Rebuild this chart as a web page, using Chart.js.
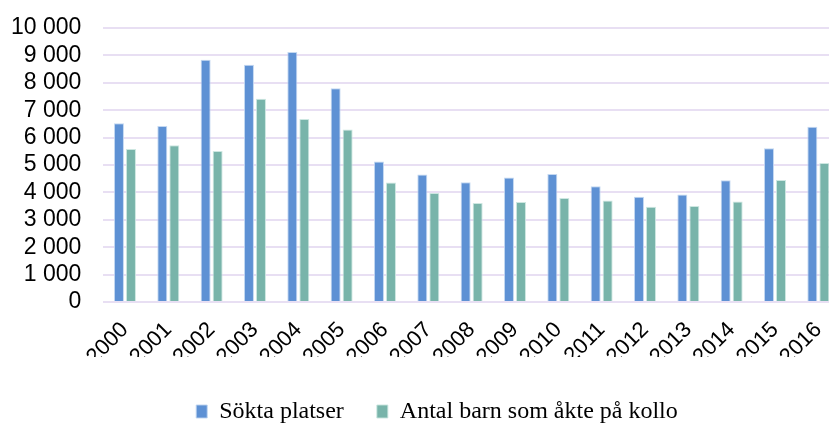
<!DOCTYPE html>
<html>
<head>
<meta charset="utf-8">
<script src="https://cdn.jsdelivr.net/npm/chart.js@4/dist/chart.umd.min.js"></script>
<style>
  html, body { margin: 0; padding: 0; background: #ffffff; overflow: hidden; }
  #wrap { width: 829px; height: 424px; position: relative; overflow: hidden; }
  canvas { display: block; }
</style>
</head>
<body>
<div id="wrap"><canvas id="c" width="840" height="424"></canvas></div>
<script>
const years = ['2000','2001','2002','2003','2004','2005','2006','2007','2008','2009','2010','2011','2012','2013','2014','2015','2016'];
const soktaPlatser = [6520, 6420, 8840, 8660, 9120, 7800, 5130, 4650, 4370, 4540, 4670, 4220, 3840, 3920, 4440, 5610, 6400];
const antalBarn = [5580, 5720, 5510, 7420, 6680, 6300, 4360, 3980, 3610, 3650, 3800, 3700, 3480, 3500, 3670, 4450, 5070];
const seriesNames = ['Sökta platser', 'Antal barn som åkte på kollo'];
const yMin = 0, yMax = 10000, yStep = 1000;

const fmt = v => String(v).replace(/\B(?=(\d{3})+(?!\d))/g, ' ');

const legendNudge = {
  id: 'legendNudge',
  afterLayout(chart) {
    const l = chart.legend;
    if (!l) return;
    l.left += 17; l.right += 17;
    l.top += 9.5; l.bottom += 9.5;
  }
};

new Chart(document.getElementById('c'), {
  type: 'bar',
  data: {
    labels: years,
    datasets: [
      { label: seriesNames[0], data: soktaPlatser, backgroundColor: '#5E91D4', borderColor: 'rgba(190,212,240,0.9)', borderWidth: 1, borderSkipped: 'bottom' },
      { label: seriesNames[1], data: antalBarn, backgroundColor: '#78B4AA', borderColor: 'rgba(200,228,222,0.9)', borderWidth: 1, borderSkipped: 'bottom' }
    ]
  },
  options: {
    responsive: false,
    animation: false,
    devicePixelRatio: 1,
    layout: { padding: { top: 28, left: 0, right: 0, bottom: 0 } },
    datasets: { bar: { categoryPercentage: 0.554, barPercentage: 0.833 } },
    plugins: {
      tooltip: { enabled: false },
      legend: {
        position: 'bottom',
        align: 'center',
        labels: {
          boxWidth: 11,
          boxHeight: 13,
          padding: 33,
          color: '#000',
          font: { family: '"Liberation Serif", "Times New Roman", serif', size: 24 }
        }
      }
    },
    scales: {
      x: {
        grid: { display: false, drawTicks: false },
        border: { display: false },
        ticks: {
          minRotation: 45, maxRotation: 45, padding: 15, autoSkip: false,
          color: '#000',
          font: { family: '"Liberation Sans", Arial, sans-serif', size: 22 }
        },
        afterFit(scale) { scale.height = 55; scale.paddingLeft = 0; scale.paddingRight = 0; }
      },
      y: {
        min: yMin, max: yMax,
        grid: { color: '#E8DFF3', lineWidth: 2, drawTicks: false },
        border: { display: false },
        ticks: {
          stepSize: yStep, padding: 22, autoSkip: false,
          color: '#000',
          font: { family: '"Liberation Sans", Arial, sans-serif', size: 23 },
          callback: v => fmt(v)
        },
        afterFit(scale) { scale.width = 103.3; scale.paddingTop = 0; scale.paddingBottom = 0; }
      }
    }
  },
  plugins: [legendNudge]
});
</script>
</body>
</html>
